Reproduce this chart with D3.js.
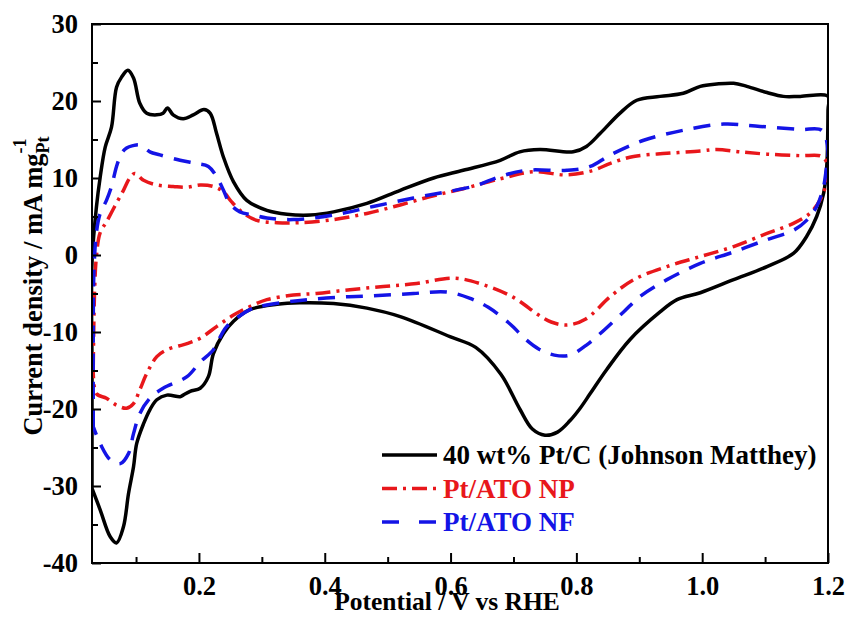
<!DOCTYPE html>
<html>
<head>
<meta charset="utf-8">
<script src="https://cdn.jsdelivr.net/npm/d3@7"></script>
<style>
  body { margin: 0; background: #fff; }
  svg { display: block; font-family: 'Liberation Serif', 'Times New Roman', serif; font-weight: bold; }
</style>
</head>
<body>
<svg id="cv-chart"></svg>
<script>
// axis ticks
const xTicks = [0.2, 0.4, 0.6, 0.8, 1.0, 1.2];
const xMinorTicks = [0.1, 0.3, 0.5, 0.7, 0.9, 1.1];
const yTicks = [-40, -30, -20, -10, 0, 10, 20, 30];
const yMinorTicks = [-35, -25, -15, -5, 5, 15, 25];

// legend labels
const seriesNames = ['40 wt% Pt/C (Johnson Matthey)', 'Pt/ATO NP', 'Pt/ATO NF'];

// CV loops, [potential V, current mA/mg]
const ptcLoop = [
  [0.03, -30.3], [0.03, -15], [0.03, -1.0], [0.037, 6.2], [0.043, 10.1], [0.051, 14.0],
  [0.061, 16.6], [0.069, 21.8], [0.077, 23.1], [0.087, 24.0], [0.096, 23.0], [0.106, 19.7],
  [0.117, 18.4], [0.133, 18.2], [0.143, 18.4], [0.150, 19.1], [0.159, 18.2], [0.175, 17.7],
  [0.191, 18.2], [0.208, 18.9], [0.218, 18.4], [0.228, 15.8], [0.239, 12.7], [0.255, 9.5],
  [0.276, 7.1], [0.308, 5.8], [0.340, 5.3], [0.377, 5.2], [0.414, 5.6], [0.467, 6.7],
  [0.52, 8.4], [0.573, 10.0], [0.62, 11.0], [0.679, 12.3], [0.710, 13.4], [0.742, 13.7],
  [0.795, 13.4], [0.816, 14.1], [0.838, 15.8], [0.869, 18.4], [0.896, 20.1], [0.933, 20.6],
  [0.970, 21.0], [0.997, 21.9], [1.023, 22.2], [1.050, 22.3], [1.071, 21.9], [1.103, 21.1],
  [1.129, 20.6], [1.156, 20.6], [1.2, 20.6], [1.2, 18.8], [1.198, 11.5], [1.193, 8.0],
  [1.182, 5.0], [1.166, 2.4], [1.145, 0.2], [1.103, -1.5], [1.05, -3.2], [0.997, -4.9],
  [0.96, -5.8], [0.933, -7.4], [0.885, -11.0], [0.848, -14.9], [0.822, -18.0], [0.806, -19.9],
  [0.79, -21.5], [0.77, -23.0], [0.75, -23.4], [0.73, -22.6], [0.71, -20.0], [0.68, -15.5],
  [0.64, -12.0], [0.599, -10.6], [0.52, -8.0], [0.467, -6.9], [0.414, -6.3], [0.36, -6.2],
  [0.324, -6.4], [0.281, -7.1], [0.255, -8.6], [0.239, -10.2], [0.223, -12.8], [0.215, -15.8],
  [0.202, -17.3], [0.186, -17.7], [0.175, -18.2], [0.17, -18.4], [0.149, -18.2], [0.133, -18.8],
  [0.122, -20.1], [0.112, -21.9], [0.101, -24.5], [0.096, -27.5], [0.088, -31.0], [0.08, -35.3],
  [0.069, -37.4], [0.059, -36.6], [0.043, -33.1], [0.03, -30.3]
];

const npLoop = [
  [0.032, -14.5], [0.034, -5], [0.037, -0.2], [0.043, 2.9], [0.053, 4.3], [0.066, 6.3],
  [0.08, 8.4], [0.09, 10.0], [0.098, 10.6], [0.112, 9.7], [0.133, 9.1], [0.159, 8.9],
  [0.181, 8.8], [0.202, 9.1], [0.223, 8.9], [0.239, 8.2], [0.252, 6.9], [0.271, 5.4],
  [0.292, 4.5], [0.324, 4.2], [0.361, 4.2], [0.414, 4.6], [0.467, 5.4], [0.52, 6.5],
  [0.573, 7.7], [0.62, 8.6], [0.679, 9.9], [0.731, 10.8], [0.785, 10.4], [0.827, 11.0],
  [0.854, 11.9], [0.891, 12.8], [0.944, 13.2], [0.997, 13.5], [1.023, 13.7], [1.06, 13.4],
  [1.103, 13.1], [1.156, 12.9], [1.19, 12.8], [1.2, 11.5], [1.198, 9.5], [1.187, 7.1],
  [1.171, 5.4], [1.145, 4.1], [1.103, 2.8], [1.05, 1.1], [0.997, -0.2], [0.944, -1.5],
  [0.891, -3.2], [0.854, -5.4], [0.815, -8.3], [0.785, -9.1], [0.76, -8.7], [0.74, -7.8],
  [0.70, -5.5], [0.65, -3.8], [0.605, -3.0], [0.546, -3.7], [0.493, -4.1], [0.44, -4.5],
  [0.387, -5.0], [0.35, -5.2], [0.308, -5.8], [0.281, -6.7], [0.255, -7.8], [0.228, -9.3],
  [0.202, -10.8], [0.181, -11.5], [0.149, -12.3], [0.133, -13.2], [0.117, -15.4], [0.106, -17.5],
  [0.096, -19.3], [0.085, -19.9], [0.069, -19.5], [0.053, -18.6], [0.037, -18.0], [0.032, -14.5]
];

const nfLoop = [
  [0.032, -22.3], [0.032, -10], [0.033, -2.4], [0.037, 2.9], [0.043, 5.4], [0.053, 7.1],
  [0.061, 8.9], [0.069, 11.5], [0.077, 13.2], [0.085, 13.9], [0.095, 14.2], [0.106, 14.3],
  [0.122, 13.4], [0.138, 13.0], [0.17, 12.3], [0.196, 11.9], [0.215, 11.5], [0.228, 10.2],
  [0.239, 8.4], [0.249, 6.7], [0.265, 5.6], [0.286, 5.2], [0.308, 4.8], [0.35, 4.6],
  [0.414, 5.2], [0.477, 6.3], [0.541, 7.4], [0.594, 8.2], [0.64, 9.0], [0.679, 10.2],
  [0.721, 11.0], [0.785, 11.0], [0.822, 11.5], [0.854, 13.0], [0.907, 14.9], [0.97, 16.2],
  [1.034, 17.0], [1.092, 16.7], [1.156, 16.3], [1.19, 16.2], [1.2, 13.5], [1.197, 11],
  [1.193, 8.9], [1.182, 6.3], [1.166, 4.5], [1.145, 3.2], [1.103, 2.0], [1.05, 0.4],
  [0.997, -1.1], [0.944, -3.2], [0.901, -5.4], [0.875, -7.4], [0.838, -10.2], [0.816, -11.7],
  [0.79, -13.0], [0.765, -13.0], [0.74, -12.2], [0.72, -11.0], [0.695, -9.0], [0.66, -6.8],
  [0.63, -5.6], [0.594, -4.8], [0.541, -5.0], [0.477, -5.3], [0.419, -5.5], [0.361, -5.9],
  [0.308, -6.5], [0.281, -7.1], [0.244, -9.3], [0.236, -10.3], [0.223, -12.3], [0.202, -13.9],
  [0.181, -15.8], [0.143, -17.3], [0.122, -18.6], [0.106, -20.6], [0.096, -23.2], [0.088, -25.8],
  [0.075, -27.1], [0.059, -26.6], [0.043, -24.5], [0.032, -22.3]
];

const width = 846;
const height = 617;
const margin = { top: 24, right: 18, bottom: 54, left: 92 };
const innerWidth = width - margin.left - margin.right;
const innerHeight = height - margin.top - margin.bottom;
const fontSize = 26.5;

const series = [
  { name: seriesNames[0], data: ptcLoop, color: '#000', dash: null },
  { name: seriesNames[1], data: npLoop, color: '#e8171b', dash: '15,6,3,6' },
  { name: seriesNames[2], data: nfLoop, color: '#1414e6', dash: '17,11' },
];

const svg = d3.select('#cv-chart')
  .attr('width', width)
  .attr('height', height);

const g = svg.append('g')
  .attr('transform', `translate(${margin.left}, ${margin.top})`);

const x = d3.scaleLinear()
  .domain([0.03, 1.2])
  .range([0, innerWidth]);
const y = d3.scaleLinear()
  .domain([-40, 30])
  .range([innerHeight, 0]);

// clip curves to frame
svg.append('defs').append('clipPath')
  .attr('id', 'plot-clip')
  .append('rect')
    .attr('width', innerWidth)
    .attr('height', innerHeight);

const line = d3.line()
  .x(d => x(d[0]))
  .y(d => y(d[1]))
  .curve(d3.curveCatmullRom.alpha(0.5));

g.append('g')
  .attr('clip-path', 'url(#plot-clip)')
  .selectAll('path')
  .data(series)
  .enter().append('path')
    .attr('d', d => line(d.data))
    .attr('fill', 'none')
    .attr('stroke', d => d.color)
    .attr('stroke-width', 3.5)
    .attr('stroke-linejoin', 'round')
    .attr('stroke-dasharray', d => d.dash);

// X axis: labels + inward ticks
const xAxis = g.append('g')
  .attr('transform', `translate(0, ${innerHeight})`)
  .call(d3.axisBottom(x)
    .tickValues(xTicks)
    .tickFormat(d3.format('.1f'))
    .tickSizeInner(-10)
    .tickSizeOuter(0)
    .tickPadding(13));
xAxis.select('.domain').remove();
xAxis.selectAll('line').attr('stroke-width', 2);
xAxis.selectAll('text')
  .attr('font-size', fontSize)
  .attr('font-family', 'Liberation Serif, serif')
  .attr('font-weight', 'bold')
  .attr('fill', '#000');

g.append('g')
  .attr('transform', `translate(0, ${innerHeight})`)
  .call(d3.axisBottom(x)
    .tickValues(xMinorTicks)
    .tickFormat('')
    .tickSizeInner(-6)
    .tickSizeOuter(0))
  .call(a => a.select('.domain').remove())
  .selectAll('line').attr('stroke-width', 2);

// Y axis
const yAxis = g.append('g')
  .call(d3.axisLeft(y)
    .tickValues(yTicks)
    .tickFormat(d => d < 0 ? '-' + Math.abs(d) : d)
    .tickSizeInner(-9)
    .tickSizeOuter(0)
    .tickPadding(14));
yAxis.select('.domain').remove();
yAxis.selectAll('line').attr('stroke-width', 2);
yAxis.selectAll('text')
  .attr('font-size', fontSize)
  .attr('font-family', 'Liberation Serif, serif')
  .attr('font-weight', 'bold')
  .attr('fill', '#000');

g.append('g')
  .call(d3.axisLeft(y)
    .tickValues(yMinorTicks)
    .tickFormat('')
    .tickSizeInner(-6)
    .tickSizeOuter(0))
  .call(a => a.select('.domain').remove())
  .selectAll('line').attr('stroke-width', 2);

// frame
g.append('rect')
  .attr('width', innerWidth)
  .attr('height', innerHeight)
  .attr('fill', 'none')
  .attr('stroke', '#000')
  .attr('stroke-width', 2);

// axis titles
svg.append('text')
  .attr('x', 447)
  .attr('y', 610)
  .attr('text-anchor', 'middle')
  .attr('font-size', 25.5)
  .text('Potential / V vs RHE');

const yTitle = svg.append('text')
  .attr('transform', 'translate(42, 286) rotate(-90)')
  .attr('text-anchor', 'middle')
  .attr('font-size', 26.5);
yTitle.append('tspan').text('Current density / mA mg');
yTitle.append('tspan')
  .attr('font-size', 18)
  .attr('dy', 7)
  .text('Pt');
yTitle.append('tspan')
  .attr('font-size', 18)
  .attr('dx', -17)
  .attr('dy', -23)
  .text('-1');

// legend
const legend = svg.append('g')
  .attr('transform', 'translate(382, 455)');

const rows = legend.selectAll('g')
  .data(series)
  .enter().append('g')
    .attr('transform', (d, i) => `translate(0, ${i * 33.5})`);

rows.append('line')
  .attr('x1', 0)
  .attr('x2', 55)
  .attr('stroke', d => d.color)
  .attr('stroke-width', 3.5)
  .attr('stroke-dasharray', (d, i) => i === 2 ? '17,20' : d.dash);

rows.append('text')
  .attr('x', 61)
  .attr('y', 9)
  .attr('font-size', 27)
  .attr('fill', d => d.color)
  .text(d => d.name);
</script>
</body>
</html>
